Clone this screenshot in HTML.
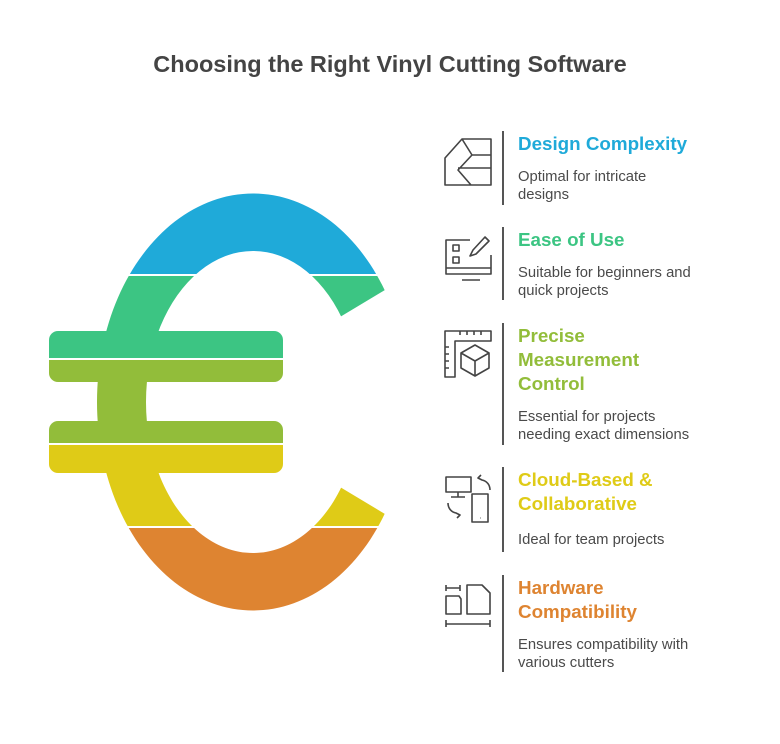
<!DOCTYPE html>
<html><head><meta charset="utf-8"><style>
body{margin:0;background:#fff;width:780px;height:744px;position:relative;font-family:"Liberation Sans",sans-serif;overflow:hidden}
h1{position:absolute;top:51px;left:0;width:780px;text-align:center;margin:0;font-size:23.5px;color:#444;font-weight:bold}
.h{position:absolute;left:518px;font-size:18.8px;font-weight:bold;line-height:24px;white-space:nowrap}
.d{position:absolute;left:518px;font-size:14.8px;line-height:18px;color:#4a4a4a;white-space:nowrap}
.v{position:absolute;left:502px;width:2px;background:#555}
</style></head><body>
<h1>Choosing the Right Vinyl Cutting Software</h1>
<svg width="780" height="744" style="position:absolute;left:0;top:0">
<defs>
<mask id="m" maskUnits="userSpaceOnUse" x="0" y="0" width="780" height="744">
<path fill="#fff" fill-rule="evenodd" d="M253,193.5 a156,208.5 0 1,0 0.01,0 Z M253,251 a107,151 0 1,1 -0.01,0 Z"/>
<rect fill="#fff" x="49" y="331" width="234" height="51" rx="9"/>
<rect fill="#fff" x="49" y="421" width="234" height="52" rx="9"/>
<path fill="#000" d="M300,341 L480,233 L480,571 L300,463 Z"/>
</mask>
</defs>
<g mask="url(#m)">
<rect x="0" y="0" width="780" height="275" fill="#1FAAD9"/>
<rect x="0" y="275" width="780" height="84" fill="#3CC583"/>
<rect x="0" y="359" width="780" height="85" fill="#92BD3A"/>
<rect x="0" y="444" width="780" height="83" fill="#DFCB17"/>
<rect x="0" y="527" width="780" height="217" fill="#DE8431"/>
<g fill="#fff"><rect x="0" y="274" width="780" height="2"/><rect x="0" y="358" width="780" height="2"/><rect x="0" y="443" width="780" height="2"/><rect x="0" y="526" width="780" height="2"/></g>
</g>
<g fill="none" stroke="#444" stroke-width="1.6" stroke-linejoin="round">
<path d="M445,170 L445,158 L462,139 L491,139 L491,185 L445,185 Z M462,139 L472,155 L458,170 L471,185 M458,168 L491,168 M472,155 L491,155"/>
<path d="M470,240 H446 V274 H491 V255 M446,268 H491 M462,280 H480 M453,245 h6 v6 h-6 z M453,257 h6 v6 h-6 z M470,256 l3,-6 l12,-13 l4,4 l-13,13 z"/>
<path d="M445,331 H491 V341 H455 V377 H445 Z M460,331 v4 M467,331 v4 M474,331 v4 M481,331 v4 M445,347 h4 M445,354 h4 M445,361 h4 M445,368 h4 M475,345 l14,8 v15 l-14,8 l-14,-8 v-15 z M461,353 l14,8 l14,-8 M475,361 v15"/>
<path d="M446,477 h25 v15 h-25 z M458,492 v5 M451,497 h14 M472,494 h16 v28 h-16 z M480,518 h0.5 M490,490 c0,-5 -3,-9 -8,-10 l-4,-2 l3,-3 M448,503 c0,5 3,9 8,10 l4,2 l-3,3"/>
<path d="M446,585 v6 M446,588 h14 M460,585 v6 M446,596 h13 l2,3 v15 h-15 z M467,585 h15 l8,8 v21 h-23 z M446,620 v7 M446,624 h44 M490,620 v7"/>
</g>
</svg>
<div class="v" style="top:131px;height:74px"></div>
<div class="v" style="top:227px;height:73px"></div>
<div class="v" style="top:323px;height:122px"></div>
<div class="v" style="top:467px;height:85px"></div>
<div class="v" style="top:575px;height:97px"></div>
<div class="h" style="top:132px;color:#1FAAD9">Design Complexity</div>
<div class="d" style="top:168px">Optimal for intricate<br>designs</div>
<div class="h" style="top:228px;color:#3CC583">Ease of Use</div>
<div class="d" style="top:264px">Suitable for beginners and<br>quick projects</div>
<div class="h" style="top:324px;color:#92BD3A">Precise<br>Measurement<br>Control</div>
<div class="d" style="top:408px">Essential for projects<br>needing exact dimensions</div>
<div class="h" style="top:468px;color:#DFCB17">Cloud-Based &amp;<br>Collaborative</div>
<div class="d" style="top:531px">Ideal for team projects</div>
<div class="h" style="top:576px;color:#DE8431">Hardware<br>Compatibility</div>
<div class="d" style="top:636px">Ensures compatibility with<br>various cutters</div>
</body></html>
